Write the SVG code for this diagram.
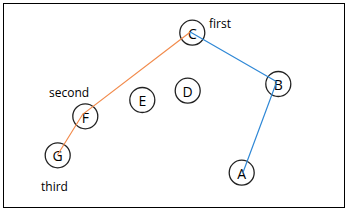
<svg xmlns="http://www.w3.org/2000/svg" width="348" height="211" viewBox="0 0 348 211">
<style>
.n circle{fill:#fff;stroke:#222;stroke-width:1.3}
.n text,.lbl{font-family:"Open Sans","Noto Sans",sans-serif;fill:#000}
.n text{font-size:14px;text-anchor:middle;dominant-baseline:central}
.lbl{font-size:12px}
.o{stroke:#f28b4c;stroke-width:1.2;fill:none}
.b{stroke:#2f88d6;stroke-width:1.2;fill:none}
</style>
<rect x="3.5" y="3.5" width="341" height="204" fill="#fff" stroke="#000" stroke-width="1"/>
<g id="node-C" class="n"><circle cx="192.3" cy="32.7" r="12.5"/><text x="192.3" y="33">C</text></g>
<g id="node-B" class="n"><circle cx="278.3" cy="84" r="12.5"/><text x="278.3" y="84.5">B</text></g>
<g id="node-D" class="n"><circle cx="187.7" cy="90.7" r="12.5"/><text x="187.7" y="91">D</text></g>
<g id="node-E" class="n"><circle cx="142.3" cy="100" r="12.5"/><text x="142.3" y="100">E</text></g>
<g id="node-F" class="n"><circle cx="85.3" cy="116.3" r="12.5"/><text x="85.3" y="117">F</text></g>
<g id="node-G" class="n"><circle cx="57.7" cy="155.3" r="12.5"/><text x="57.7" y="155.5">G</text></g>
<g id="node-A" class="n"><circle cx="241.7" cy="172.7" r="12.5"/><text x="241.7" y="173">A</text></g>
<g id="connectors">
<polyline class="o" points="190,32.3 82.7,114.3 57.3,155.3"/>
<polyline class="b" points="190.7,32.3 276.7,81.7 242.7,173.3"/>
</g>
<text class="lbl" x="209" y="28">first</text>
<text class="lbl" x="49" y="96.7">second</text>
<text class="lbl" x="41" y="190.7">third</text>
</svg>
